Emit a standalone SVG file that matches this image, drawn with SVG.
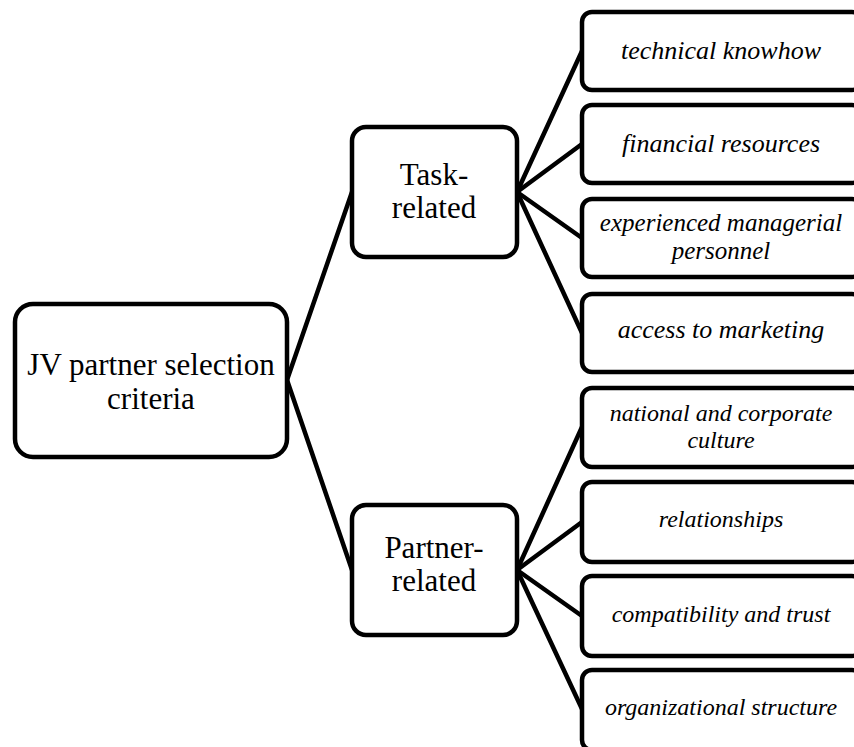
<svg xmlns="http://www.w3.org/2000/svg" width="854" height="747" viewBox="0 0 854 747">
<style>
.box{fill:#fff;stroke:#000;stroke-width:4.5}
.main{font-family:"Liberation Serif","Times New Roman",serif;font-size:31px;fill:#000;text-anchor:middle}
.leaf{font-family:"Liberation Serif","Times New Roman",serif;font-style:italic;fill:#000;text-anchor:middle}
.t{font-size:26px}
.p{font-size:24px}
.e{font-size:25px}
.conn line{stroke:#000;stroke-width:4.5;stroke-linecap:round}
</style>
<rect width="854" height="747" fill="#fff"/>
<g class="conn" id="connectors">
<line x1="287" y1="380" x2="352" y2="192"/>
<line x1="287" y1="380" x2="352" y2="570"/>
<line x1="517" y1="192" x2="582" y2="51"/>
<line x1="517" y1="192" x2="582" y2="144"/>
<line x1="517" y1="192" x2="582" y2="238"/>
<line x1="517" y1="192" x2="582" y2="333"/>
<line x1="517" y1="570" x2="582" y2="427"/>
<line x1="517" y1="570" x2="582" y2="522"/>
<line x1="517" y1="570" x2="582" y2="616"/>
<line x1="517" y1="570" x2="582" y2="709"/>
</g>
<g id="root">
<rect class="box" x="15" y="304" width="272" height="153" rx="18"/>
<text class="main" x="151" y="375">JV partner selection</text>
<text class="main" x="151" y="409">criteria</text>
</g>
<g id="task">
<rect class="box" x="352" y="127" width="165" height="130" rx="14"/>
<text class="main" x="434" y="185">Task-</text>
<text class="main" x="434" y="218">related</text>
</g>
<g id="partner">
<rect class="box" x="352" y="505" width="165" height="130" rx="14"/>
<text class="main" x="434" y="558">Partner-</text>
<text class="main" x="434" y="591">related</text>
</g>
<g id="leaf1">
<rect class="box" x="582" y="12" width="280" height="78" rx="10"/>
<text class="leaf t" x="721" y="59">technical knowhow</text>
</g>
<g id="leaf2">
<rect class="box" x="582" y="105" width="280" height="78" rx="10"/>
<text class="leaf t" x="721" y="152">financial resources</text>
</g>
<g id="leaf3">
<rect class="box" x="582" y="199" width="280" height="78" rx="10"/>
<text class="leaf e" x="721" y="231">experienced managerial</text>
<text class="leaf e" x="721" y="259">personnel</text>
</g>
<g id="leaf4">
<rect class="box" x="582" y="294" width="280" height="78" rx="10"/>
<text class="leaf t" x="721" y="338">access to marketing</text>
</g>
<g id="leaf5">
<rect class="box" x="582" y="388" width="280" height="79" rx="10"/>
<text class="leaf p" x="721" y="421">national and corporate</text>
<text class="leaf p" x="721" y="448">culture</text>
</g>
<g id="leaf6">
<rect class="box" x="582" y="482" width="280" height="80" rx="10"/>
<text class="leaf p" x="721" y="527">relationships</text>
</g>
<g id="leaf7">
<rect class="box" x="582" y="576" width="280" height="80" rx="10"/>
<text class="leaf p" x="721" y="622">compatibility and trust</text>
</g>
<g id="leaf8">
<rect class="box" x="582" y="670" width="280" height="80" rx="10"/>
<text class="leaf p" x="721" y="715">organizational structure</text>
</g>
</svg>
